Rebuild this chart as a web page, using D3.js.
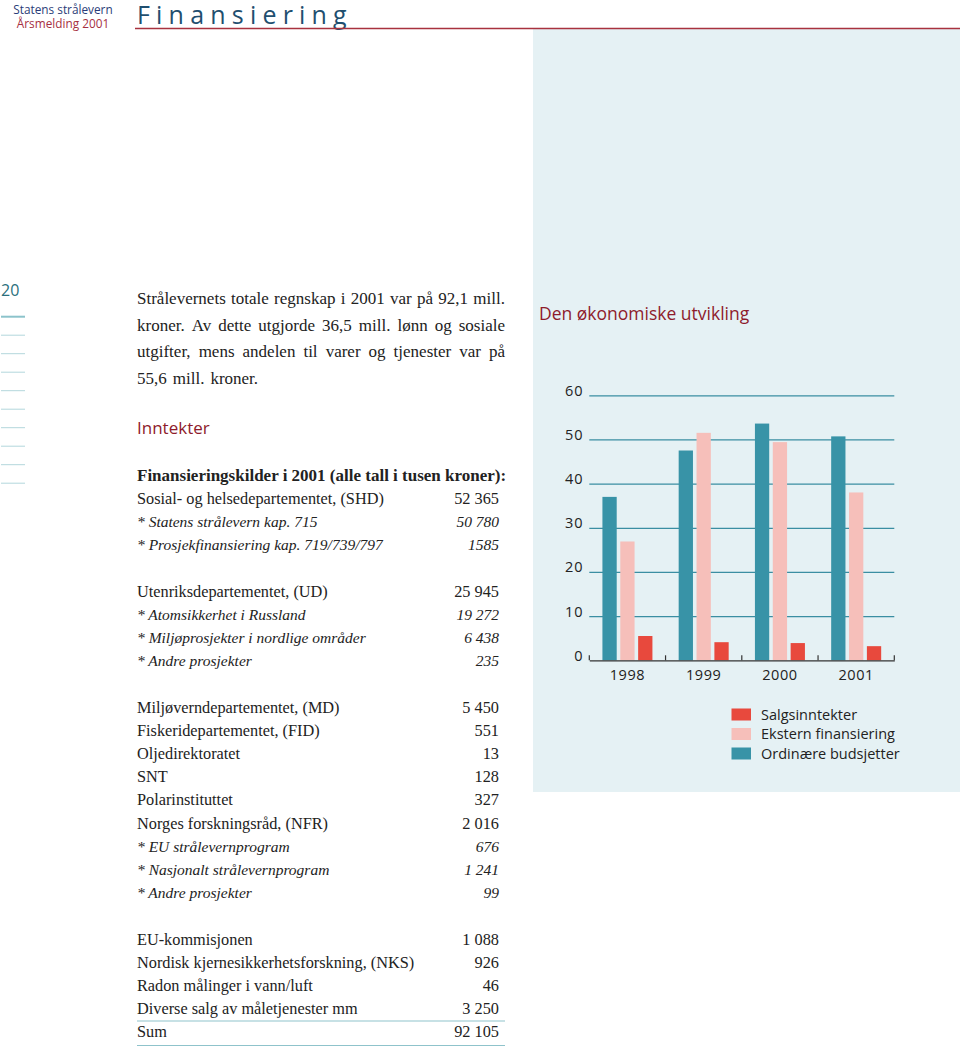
<!DOCTYPE html>
<html><head><meta charset="utf-8">
<script src="https://cdn.jsdelivr.net/npm/d3@7"></script>
<style>
html,body{margin:0;padding:0;background:#fff;}
svg{display:block;}
</style></head>
<body>
<script>
// ---------- data ----------
const years = ["1998", "1999", "2000", "2001"];
const seriesNames = ["Ordinære budsjetter", "Ekstern finansiering", "Salgsinntekter"];
const ordinaere = [37.0, 47.5, 53.6, 50.7];
const ekstern = [26.9, 51.5, 49.4, 38.0];
const salg = [5.5, 4.1, 3.9, 3.2];
const yTicks = [0, 10, 20, 30, 40, 50, 60];
const legendOrder = ["Salgsinntekter", "Ekstern finansiering", "Ordinære budsjetter"];

const paragraphLines = [
  "Strålevernets totale regnskap i 2001 var på 92,1 mill.",
  "kroner. Av dette utgjorde 36,5 mill. lønn og sosiale",
  "utgifter, mens andelen til varer og tjenester var på",
  "55,6 mill. kroner."
];
const tableHeader = "Finansieringskilder i 2001 (alle tall i tusen kroner):";
const shdLabels = ["Sosial- og helsedepartementet, (SHD)", "* Statens strålevern kap. 715", "* Prosjekfinansiering kap. 719/739/797"];
const shdValues = ["52 365", "50 780", "1585"];
const udLabels = ["Utenriksdepartementet, (UD)", "* Atomsikkerhet i Russland", "* Miljøprosjekter i nordlige områder", "* Andre prosjekter"];
const udValues = ["25 945", "19 272", "6 438", "235"];
const mdLabels = ["Miljøverndepartementet, (MD)", "Fiskeridepartementet, (FID)", "Oljedirektoratet", "SNT", "Polarinstituttet", "Norges forskningsråd, (NFR)", "* EU strålevernprogram", "* Nasjonalt strålevernprogram", "* Andre prosjekter"];
const mdValues = ["5 450", "551", "13", "128", "327", "2 016", "676", "1 241", "99"];
const miscLabels = ["EU-kommisjonen", "Nordisk kjernesikkerhetsforskning, (NKS)", "Radon målinger i vann/luft", "Diverse  salg av måletjenester mm"];
const miscValues = ["1 088", "926", "46", "3 250"];
const sumLabel = "Sum";
const sumValue = "92 105";

// ---------- layout ----------
const W = 960, H = 1050;
const svg = d3.select("body").append("svg").attr("width", W).attr("height", H);
const SANS = "'Open Sans', 'DejaVu Sans', sans-serif";
const SERIF = "'Liberation Serif', 'DejaVu Serif', serif";
const DARKRED = "#8e1b2c";

// panel
svg.append("rect").attr("x", 533).attr("y", 29).attr("width", W - 533).attr("height", 792 - 29).attr("fill", "#e5f1f4");

// header
svg.append("text").attr("x", 63).attr("y", 14).attr("text-anchor", "middle")
  .attr("font-family", SANS).attr("font-size", 11.8).attr("fill", "#2a3c78").text("Statens strålevern");
svg.append("text").attr("x", 63).attr("y", 28).attr("text-anchor", "middle")
  .attr("font-family", SANS).attr("font-size", 11.8).attr("fill", "#a6303f").text("Årsmelding 2001");
svg.append("text").attr("x", 137).attr("y", 24).attr("font-family", SANS).attr("font-size", 25)
  .attr("letter-spacing", 6.2).attr("fill", "#1f4f6f").text("Finansiering");
svg.append("line").attr("x1", 135).attr("x2", W).attr("y1", 28.5).attr("y2", 28.5)
  .attr("stroke", "#a8323f").attr("stroke-width", 1.6);

// left margin
svg.append("text").attr("x", 1).attr("y", 296).attr("font-family", SANS).attr("font-size", 16)
  .attr("fill", "#2b6f7c").text("20");
d3.range(10).forEach(i => {
  svg.append("line").attr("x1", 1).attr("x2", 25).attr("y1", 316.7 + i * 18.5).attr("y2", 316.7 + i * 18.5)
    .attr("stroke", i === 0 ? "#8cc3cb" : "#b3d7dc").attr("stroke-width", i === 0 ? 2 : 1);
});

// paragraph (justified)
const paraX0 = 137, paraX1 = 505, paraY0 = 304, paraDy = 26.5;
paragraphLines.forEach((line, li) => {
  const yy = paraY0 + li * paraDy;
  const words = line.split(" ");
  const g = svg.append("g");
  const nodes = words.map(w => g.append("text").attr("y", yy).attr("font-family", SERIF)
    .attr("font-size", 17).attr("fill", "#222").text(w));
  const widths = nodes.map(n => n.node().getComputedTextLength());
  const total = d3.sum(widths);
  const last = li === paragraphLines.length - 1;
  const gap = last ? 6 : Math.max(2, (paraX1 - paraX0 - total) / (words.length - 1));
  let x = paraX0;
  nodes.forEach((n, i) => { n.attr("x", x); x += widths[i] + gap; });
});

svg.append("text").attr("x", 137).attr("y", 434).attr("font-family", SANS).attr("font-size", 17)
  .attr("fill", DARKRED).text("Inntekter");

// table
const rowY0 = 480.5, rowH = 23.2, valX = 499, labX = 137;
svg.append("text").attr("x", labX).attr("y", rowY0).attr("font-family", SERIF).attr("font-size", 17)
  .attr("font-weight", "bold").attr("fill", "#222").text(tableHeader);
function rows(labels, values, startIdx) {
  labels.forEach((lab, i) => {
    const yy = rowY0 + (startIdx + i) * rowH;
    const it = lab.startsWith("*");
    const fs = it ? 15.5 : 16.3;
    svg.append("text").attr("x", labX).attr("y", yy).attr("font-family", SERIF).attr("font-size", fs)
      .attr("font-style", it ? "italic" : "normal").attr("fill", "#222").text(lab);
    svg.append("text").attr("x", valX).attr("y", yy).attr("text-anchor", "end").attr("font-family", SERIF)
      .attr("font-size", fs).attr("font-style", it ? "italic" : "normal").attr("fill", "#222").text(values[i]);
  });
}
rows(shdLabels, shdValues, 1);
rows(udLabels, udValues, 5);
rows(mdLabels, mdValues, 10);
rows(miscLabels, miscValues, 20);
rows([sumLabel], [sumValue], 24);
svg.append("line").attr("x1", 137).attr("x2", 505).attr("y1", 1021).attr("y2", 1021).attr("stroke", "#8fc3cb").attr("stroke-width", 1.2);
svg.append("line").attr("x1", 137).attr("x2", 505).attr("y1", 1045.5).attr("y2", 1045.5).attr("stroke", "#8fc3cb").attr("stroke-width", 1.2);

// ---------- chart ----------
svg.append("text").attr("x", 539).attr("y", 320).attr("font-family", SANS).attr("font-size", 17.5)
  .attr("fill", DARKRED).text("Den økonomiske utvikling");

const plotL = 589.3, plotR = 894.3;
const y = d3.scaleLinear().domain([0, 60]).range([660.3, 395.3]);
const x0 = d3.scaleBand().domain(years).range([plotL, plotR]).padding(0);
const groupW = 50;
const x1 = d3.scaleBand().domain(seriesNames).range([0, groupW]).paddingInner(0.2);
const color = d3.scaleOrdinal().domain(seriesNames).range(["#3893a7", "#f6bfba", "#e8493d"]);

// grid via axis
const gridAxis = d3.axisLeft(y).tickValues(yTicks.filter(d => d > 0)).tickSize(-(plotR - plotL)).tickFormat("");
const gg = svg.append("g").attr("transform", `translate(${plotL},0)`).call(gridAxis);
gg.select(".domain").remove();
gg.selectAll(".tick line").attr("stroke", "#3a8ea2").attr("stroke-width", 1.2);

// y labels
const yLab = d3.axisLeft(y).tickValues(yTicks).tickSize(0).tickPadding(6).tickFormat(d3.format("d"));
const yl = svg.append("g").attr("transform", `translate(${plotL},0)`).call(yLab);
yl.select(".domain").remove();
yl.selectAll("text").attr("font-family", SANS).attr("font-size", 14.5).attr("fill", "#222")
  .attr("dy", "0.0em").attr("letter-spacing", 0.8);

// bars
const data = years.map((yr, i) => ({ year: yr, vals: [ordinaere[i], ekstern[i], salg[i]] }));
const off = (x0.bandwidth() - groupW) / 2;
const grp = svg.append("g").selectAll("g").data(data).join("g")
  .attr("transform", d => `translate(${x0(d.year) + off},0)`);
grp.selectAll("rect").data(d => d.vals.map((v, k) => ({ k: seriesNames[k], v })))
  .join("rect")
  .attr("x", d => x1(d.k)).attr("width", x1.bandwidth())
  .attr("y", d => y(d.v)).attr("height", d => y(0) - y(d.v))
  .attr("fill", d => color(d.k));

// x axis
const xAxis = d3.axisBottom(x0).tickSize(0).tickPadding(9);
const xa = svg.append("g").attr("transform", `translate(0,${y(0)})`).call(xAxis);
xa.select(".domain").attr("stroke", "#333").attr("stroke-width", 1.3);
xa.selectAll("text").attr("font-family", SANS).attr("font-size", 14.5).attr("fill", "#222").attr("letter-spacing", 0.6);
const bounds = years.map(yr => x0(yr)).concat([x0(years[years.length - 1]) + x0.bandwidth()]);
svg.append("g").selectAll("line").data(bounds).join("line")
  .attr("x1", d => d).attr("x2", d => d).attr("y1", y(0)).attr("y2", y(0) - 5)
  .attr("stroke", "#333").attr("stroke-width", 1.2);

// legend
const lg = svg.append("g").selectAll("g").data(legendOrder).join("g")
  .attr("transform", (d, i) => `translate(731.5,${708.5 + i * 19.5})`);
lg.append("rect").attr("width", 19.5).attr("height", 12).attr("fill", d => color(d));
lg.append("text").attr("x", 29.5).attr("y", 11).attr("font-family", SANS).attr("font-size", 14.5)
  .attr("fill", "#222").text(d => d);
</script>
</body></html>
